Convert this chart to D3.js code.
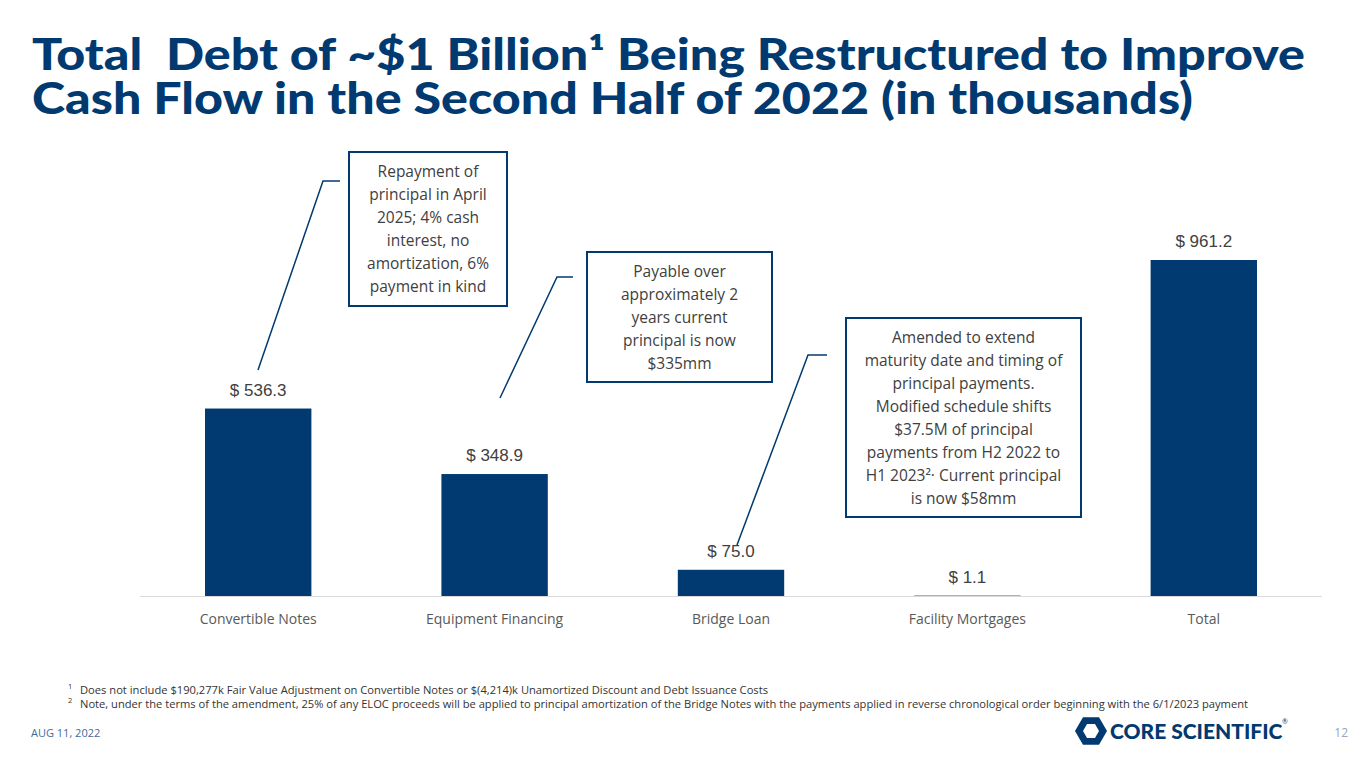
<!DOCTYPE html>
<html><head><meta charset="utf-8">
<script src="https://cdn.jsdelivr.net/npm/d3@7"></script>
<style>body{margin:0;background:#fff}</style></head>
<body><svg id="c" width="1365" height="768"></svg>
<script>
const categories=["Convertible Notes","Equipment Financing","Bridge Loan","Facility Mortgages","Total"];
const values=[536.3,348.9,75.0,1.1,961.2];
const valueLabels=["$ 536.3","$ 348.9","$ 75.0","$ 1.1","$ 961.2"];
const svg=d3.select("#c");
const navy="#003a70";
const x=d3.scaleBand().domain(categories).range([140,1322]).paddingInner(0.55).paddingOuter(0.275);
const y=d3.scaleLinear().domain([0,961.2]).range([596,260]);
// title
const t=svg.append("text").attr("font-family","Lato").attr("font-weight",900).attr("font-size",43).attr("fill",navy).attr("xml:space","preserve").style("white-space","pre");
t.append("tspan").attr("x",32).attr("y",70).attr("textLength",1273).attr("lengthAdjust","spacingAndGlyphs").text("Total  Debt of ~$1 Billion¹ Being Restructured to Improve");
t.append("tspan").attr("x",32).attr("y",114).attr("textLength",1161).attr("lengthAdjust","spacingAndGlyphs").text("Cash Flow in the Second Half of 2022 (in thousands)");
// bars
svg.selectAll("rect.b").data(values).join("rect").attr("x",(d,i)=>x(categories[i])).attr("width",x.bandwidth())
 .attr("y",d=>y(d)).attr("height",d=>596-y(d)).attr("fill",navy);
svg.append("line").attr("x1",140).attr("x2",1322).attr("y1",596.5).attr("y2",596.5).attr("stroke","#d9d9d9");
svg.selectAll("text.v").data(values).join("text").attr("x",(d,i)=>x(categories[i])+x.bandwidth()/2)
 .attr("y",d=>y(d)-13).attr("text-anchor","middle").attr("font-family","Liberation Sans").attr("font-size",17).attr("fill","#404040")
 .text((d,i)=>valueLabels[i]);
svg.selectAll("text.c").data(categories).join("text").attr("x",d=>x(d)+x.bandwidth()/2).attr("y",624)
 .attr("text-anchor","middle").attr("font-family","Open Sans").attr("font-size",14).attr("fill","#595959").text(d=>d);
// callouts
const boxes=[
 {x:349,y:152,w:158,h:154,lines:["Repayment of","principal in April","2025; 4% cash","interest, no","amortization, 6%","payment in kind"],p:"258,370 323,181 340,181"},
 {x:587,y:252,w:185,h:130,lines:["Payable over","approximately 2","years current","principal is now","$335mm"],p:"500,398 557,277 573,277"},
 {x:846,y:318,w:235,h:199,lines:["Amended to extend","maturity date and timing of","principal payments.","Modified schedule shifts","$37.5M of principal","payments from H2 2022 to","H1 2023²· Current principal","is now $58mm"],p:"737,545 808,355 827,355"}];
boxes.forEach(b=>{
 svg.append("rect").attr("x",b.x).attr("y",b.y).attr("width",b.w).attr("height",b.h).attr("fill","#fff").attr("stroke",navy).attr("stroke-width",2);
 svg.append("polyline").attr("points",b.p).attr("fill","none").attr("stroke",navy).attr("stroke-width",1.5);
 const n=b.lines.length, lh=23, top=b.y+(b.h-n*lh)/2+17;
 b.lines.forEach((l,i)=>svg.append("text").attr("x",b.x+b.w/2).attr("y",top+i*lh).attr("text-anchor","middle")
  .attr("font-family","Open Sans").attr("font-size",15.5).attr("fill","#404040").text(l));
});
// footnotes
const fn=["Does not include $190,277k Fair Value Adjustment on Convertible Notes or $(4,214)k Unamortized Discount and Debt Issuance Costs",
"Note, under the terms of the amendment, 25% of any ELOC proceeds will be applied to principal amortization of the Bridge Notes with the payments applied in reverse chronological order beginning with the 6/1/2023 payment"];
fn.forEach((f,i)=>{
 svg.append("text").attr("x",68).attr("y",689+i*14).attr("font-family","Open Sans").attr("font-size",7.5).attr("fill","#333").text(i+1);
 svg.append("text").attr("x",80).attr("y",694+i*14).attr("font-family","Open Sans").attr("font-size",11).attr("fill","#333")
  .attr("textLength",i?1168:688).attr("lengthAdjust","spacingAndGlyphs").text(f);
});
svg.append("text").attr("x",31).attr("y",737).attr("font-family","Open Sans").attr("font-size",11).attr("fill","#3f6c9c").text("AUG 11, 2022");
svg.append("text").attr("x",1348).attr("y",737).attr("text-anchor","end").attr("font-family","Open Sans").attr("font-size",12).attr("fill","#9aa5b5").text("12");
// logo
const hx=1091,hy=731,r=16;
svg.append("polygon").attr("points",d3.range(6).map(i=>{const a=Math.PI/3*i;return [hx+r*Math.cos(a),hy+r*Math.sin(a)].join(",")}).join(" ")).attr("fill",navy);
svg.append("polygon").attr("points",d3.range(6).map(i=>{const a=Math.PI/3*i;return [hx+8*Math.cos(a),hy+8*Math.sin(a)].join(",")}).join(" ")).attr("fill","#fff");
svg.append("text").attr("x",1110).attr("y",739).attr("font-family","Lato").attr("font-weight",900).attr("font-size",21).attr("fill",navy).text("CORE SCIENTIFIC");
svg.append("text").attr("x",1282).attr("y",724).attr("font-family","Lato").attr("font-size",7).attr("fill",navy).text("®");
</script></body></html>
